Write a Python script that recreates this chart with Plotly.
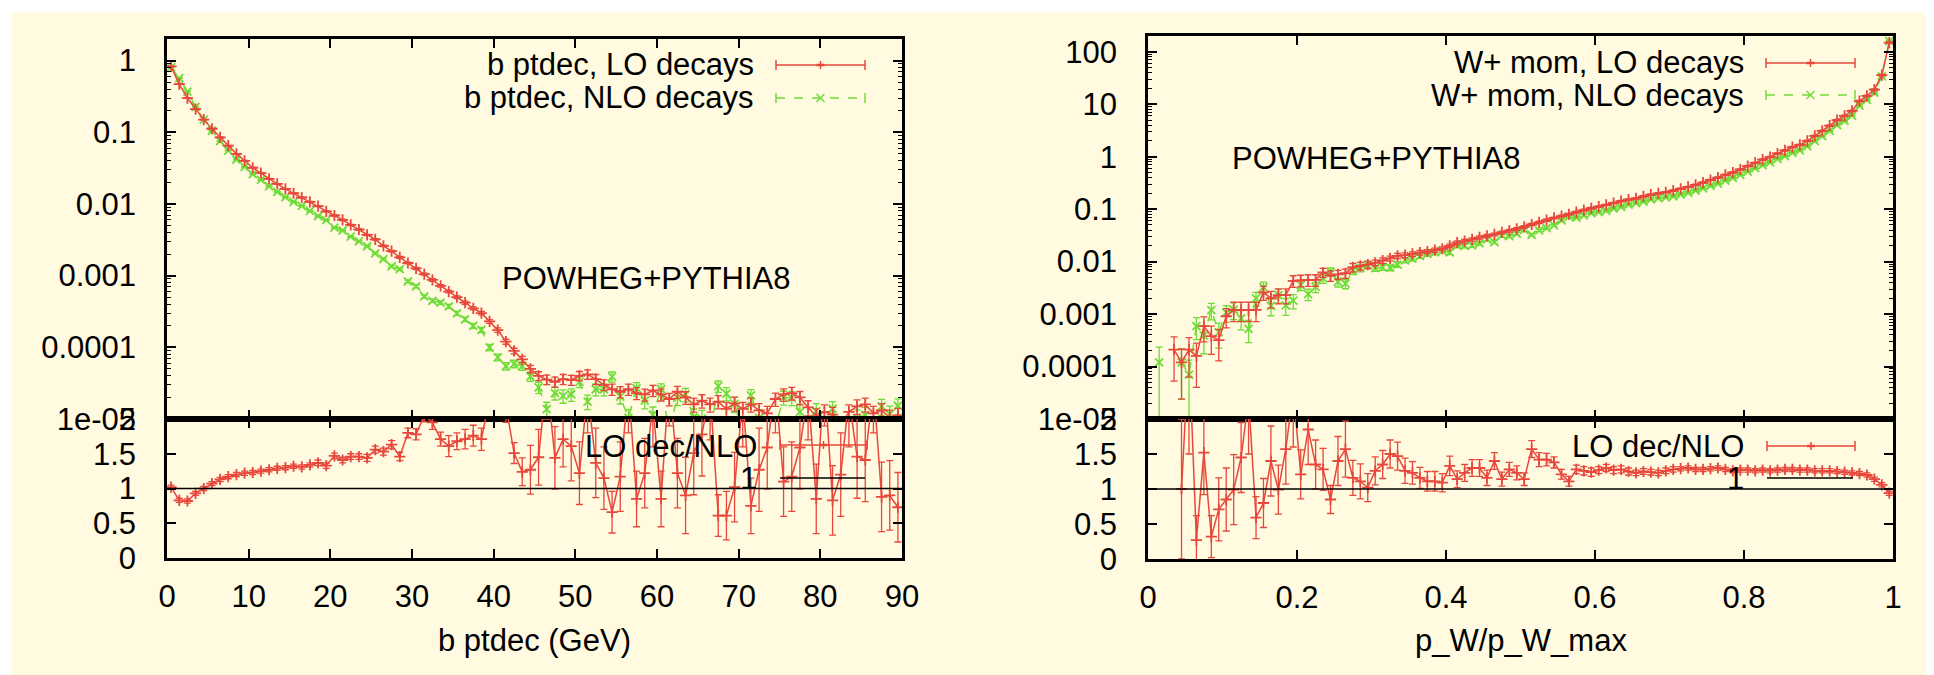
import numpy as np
import plotly.graph_objects as go

# The page places the figure 8 px in from the top-left corner, so all layout
# positions below are given in window pixels and converted with OFF.
WIN_W, WIN_H = 1934, 675
OFF = 8
W, H = WIN_W - OFF, WIN_H - OFF
RED = "#E8473B"
GREEN = "#6FDC37"
CREAM = "#FFFAE0"
FONT = "Liberation Sans, Arial, Helvetica, sans-serif"
FS = 31

# ---------------- data: left panel (b ptdec, GeV) ----------------
b_pt = np.arange(0.5, 90.0, 1.0)   # bin centres
b_lo = [0.83, 0.47, 0.30, 0.21, 0.15, 0.112, 0.085, 0.065, 0.050, 0.040,
        0.032, 0.027, 0.0224, 0.019, 0.0162, 0.0141, 0.0123, 0.0107, 0.0093, 0.0079,
        0.0069, 0.0060, 0.0051, 0.0044, 0.0037, 0.0032, 0.0026, 0.0022, 0.0018, 0.0015,
        0.00126, 0.00105, 0.00087, 0.00072, 0.00060, 0.00050, 0.00042, 0.00035, 0.00030, 0.00023,
        1.74e-4, 1.20e-4, 8.9e-5, 6.8e-5, 5.0e-5, 4.0e-5, 3.55e-5, 3.3e-5, 3.6e-5, 3.5e-5,
        4.0e-5, 4.2e-5, 3.6e-5, 3.0e-5, 2.6e-5, 2.4e-5, 2.6e-5, 2.3e-5, 2.2e-5, 2.5e-5,
        2.2e-5, 1.9e-5, 2.4e-5, 2.0e-5, 1.6e-5, 1.8e-5, 1.6e-5, 1.75e-5, 1.38e-5, 1.65e-5,
        1.38e-5, 1.6e-5, 1.32e-5, 1.2e-5, 1.9e-5, 2.2e-5, 2.3e-5, 2.0e-5, 1.45e-5, 1.1e-5,
        1.26e-5, 1.15e-5, 8.0e-6, 1.26e-5, 1.5e-5, 1.6e-5, 1.2e-5, 1.32e-5, 1.05e-5, 1.12e-5]
b_lo_rel = [0.01, 0.01, 0.01, 0.01, 0.01, 0.01, 0.01, 0.01, 0.01, 0.01,
            0.012, 0.012, 0.012, 0.012, 0.012, 0.015, 0.015, 0.015, 0.015, 0.015,
            0.02, 0.02, 0.02, 0.02, 0.02, 0.025, 0.025, 0.025, 0.03, 0.03,
            0.035, 0.035, 0.04, 0.04, 0.045, 0.045, 0.05, 0.05, 0.055, 0.06,
            0.07, 0.08, 0.09, 0.1, 0.12, 0.14, 0.15, 0.16, 0.16, 0.16,
            0.15, 0.15, 0.16, 0.17, 0.18, 0.18, 0.18, 0.19, 0.19, 0.18,
            0.19, 0.2, 0.19, 0.2, 0.22, 0.21, 0.22, 0.21, 0.24, 0.22,
            0.24, 0.22, 0.24, 0.25, 0.21, 0.2, 0.2, 0.21, 0.24, 0.26,
            0.25, 0.26, 0.3, 0.25, 0.23, 0.22, 0.25, 0.24, 0.27, 0.26]
b_nlo = [0.81, 0.57, 0.37, 0.226, 0.15, 0.105, 0.075, 0.0556, 0.0417, 0.0328,
         0.026, 0.0216, 0.0176, 0.0147, 0.01246, 0.01068, 0.00939, 0.00799, 0.00679, 0.00594,
         0.00469, 0.00426, 0.00349, 0.00301, 0.00257, 0.00205, 0.0017, 0.00135, 0.00123, 0.000833,
         0.000708, 0.000512, 0.000446, 0.000421, 0.000373, 0.000298, 0.000246, 0.000199, 0.000175, 0.0001,
         7.25e-5, 5.45e-5, 5.89e-5, 5.48e-5, 3.94e-5, 2.76e-5, 1.37e-5, 2.3e-5, 2.1e-5, 2.2e-5,
         3.3e-5, 1.75e-5, 2.6e-5, 2.6e-5, 3.9e-5, 2.05e-5, 1.04e-5, 2.7e-5, 1.8e-5, 1.14e-5,
         2.6e-5, 7.3e-6, 1.97e-5, 2.2e-5, 1.06e-5, 1.01e-5, 6.7e-6, 2.87e-5, 2.26e-5, 1.62e-5,
         6.0e-6, 2.13e-5, 1.04e-5, 7.5e-6, 7.6e-6, 2.0e-5, 1.97e-5, 1.26e-5, 6.0e-6, 1.29e-5,
         4.8e-6, 1.39e-5, 6.7e-6, 5.5e-6, 1.03e-5, 1.13e-5, 4.8e-6, 1.5e-5, 1.17e-5, 1.53e-5]
b_nlo_rel = [0.01, 0.01, 0.01, 0.01, 0.01, 0.01, 0.01, 0.01, 0.012, 0.012,
             0.012, 0.012, 0.015, 0.015, 0.015, 0.015, 0.018, 0.018, 0.018, 0.02,
             0.02, 0.022, 0.022, 0.025, 0.025, 0.03, 0.03, 0.035, 0.035, 0.04,
             0.045, 0.05, 0.05, 0.055, 0.06, 0.065, 0.07, 0.075, 0.08, 0.1,
             0.11, 0.12, 0.12, 0.13, 0.15, 0.18, 0.25, 0.2, 0.21, 0.2,
             0.17, 0.23, 0.19, 0.19, 0.16, 0.21, 0.3, 0.19, 0.23, 0.29,
             0.19, 0.35, 0.22, 0.21, 0.3, 0.31, 0.38, 0.18, 0.21, 0.24,
             0.4, 0.21, 0.3, 0.36, 0.36, 0.22, 0.22, 0.28, 0.4, 0.27,
             0.45, 0.26, 0.38, 0.42, 0.3, 0.29, 0.45, 0.25, 0.29, 0.25]
b_ratio = [1.02, 0.83, 0.82, 0.93, 1.00, 1.07, 1.13, 1.17, 1.20, 1.22,
           1.23, 1.25, 1.27, 1.29, 1.30, 1.32, 1.31, 1.34, 1.37, 1.33,
           1.47, 1.41, 1.46, 1.46, 1.44, 1.56, 1.53, 1.63, 1.46, 1.80,
           1.78, 2.05, 1.95, 1.71, 1.61, 1.68, 1.71, 1.76, 1.71, 2.30,
           2.40, 2.20, 1.51, 1.24, 1.27, 1.45, 2.60, 1.44, 1.71, 1.61,
           1.22, 2.40, 1.37, 1.15, 0.66, 1.17, 2.50, 0.85, 1.22, 2.20,
           0.85, 2.60, 1.22, 0.90, 1.51, 1.78, 2.40, 0.61, 0.61, 1.02,
           2.30, 0.75, 1.27, 1.59, 2.50, 1.10, 1.17, 1.59, 2.40, 0.85,
           2.60, 0.83, 1.20, 2.30, 1.46, 1.41, 2.50, 0.88, 0.90, 0.73]
b_ratio_err = [0.03, 0.03, 0.03, 0.03, 0.03, 0.03, 0.03, 0.03, 0.03, 0.03,
               0.03, 0.03, 0.03, 0.03, 0.03, 0.03, 0.03, 0.03, 0.04, 0.04,
               0.04, 0.04, 0.04, 0.04, 0.05, 0.05, 0.05, 0.06, 0.06, 0.07,
               0.08, 0.09, 0.10, 0.10, 0.15, 0.12, 0.14, 0.15, 0.16, 0.20,
               0.25, 0.25, 0.15, 0.20, 0.35, 0.40, 0.60, 0.45, 0.40, 0.50,
               0.45, 0.60, 0.50, 0.45, 0.30, 0.50, 0.70, 0.40, 0.50, 0.60,
               0.40, 0.70, 0.50, 0.55, 0.60, 0.60, 0.70, 0.30, 0.35, 0.50,
               0.70, 0.40, 0.60, 0.60, 0.70, 0.50, 0.50, 0.60, 0.70, 0.50,
               0.70, 0.50, 0.60, 0.70, 0.60, 0.60, 0.70, 0.50, 0.50, 0.50]

# ---------------- data: right panel (p_W / p_W_max) ----------------
w_x = np.arange(0.005, 1.0, 0.01)   # bin centres
w_lo = [None, None, None, 2.1e-4, 1.2e-4, 2.1e-4, 1.6e-4, 5.9e-4, 3.8e-4, 3.2e-4,
        9.1e-4, 1.2e-3, 1.2e-3, 1.2e-3, 1.2e-3, 2.6e-3, 2.0e-3, 2.3e-3, 2.3e-3, 4.3e-3,
        4.4e-3, 4.5e-3, 4.5e-3, 6.2e-3, 5.4e-3, 5.7e-3, 6.0e-3, 7.8e-3, 8.3e-3, 8.8e-3,
        9.5e-3, 1.05e-2, 1.15e-2, 1.29e-2, 1.33e-2, 1.40e-2, 1.48e-2, 1.56e-2, 1.66e-2, 1.76e-2,
        2.0e-2, 2.3e-2, 2.45e-2, 2.65e-2, 2.9e-2, 3.1e-2, 3.3e-2, 3.6e-2, 3.9e-2, 4.2e-2,
        4.6e-2, 5.1e-2, 5.6e-2, 6.2e-2, 6.8e-2, 7.4e-2, 8.0e-2, 8.8e-2, 9.6e-2, 0.104,
        0.112, 0.121, 0.131, 0.142, 0.153, 0.160, 0.175, 0.190, 0.200, 0.210,
        0.225, 0.245, 0.265, 0.290, 0.320, 0.360, 0.400, 0.450, 0.500, 0.570,
        0.660, 0.760, 0.880, 0.980, 1.15, 1.32, 1.52, 1.68, 2.0, 2.5,
        3.1, 3.9, 5.0, 6.0, 7.5, 11.5, 14.5, 19.0, 36.0, 150.0]
w_lo_rel = [None, None, None, 0.75, 0.8, 0.7, 0.75, 0.5, 0.55, 0.6,
            0.4, 0.4, 0.4, 0.4, 0.4, 0.3, 0.35, 0.32, 0.32, 0.25,
            0.25, 0.25, 0.25, 0.2, 0.22, 0.2, 0.2, 0.18, 0.17, 0.16,
            0.12, 0.12, 0.11, 0.11, 0.1, 0.1, 0.1, 0.09, 0.09, 0.09,
            0.08, 0.08, 0.08, 0.07, 0.07, 0.07, 0.06, 0.06, 0.06, 0.06,
            0.05, 0.05, 0.05, 0.05, 0.04, 0.04, 0.04, 0.04, 0.04, 0.04,
            0.03, 0.03, 0.03, 0.03, 0.03, 0.03, 0.03, 0.03, 0.03, 0.03,
            0.03, 0.03, 0.03, 0.03, 0.03, 0.03, 0.03, 0.03, 0.03, 0.03,
            0.03, 0.03, 0.03, 0.03, 0.03, 0.03, 0.03, 0.03, 0.03, 0.03,
            0.03, 0.03, 0.03, 0.03, 0.03, 0.03, 0.03, 0.03, 0.03, 0.03]
w_nlo = [None, 1.2e-4, None, None, 1.2e-4, 7.0e-5, 5.9e-4, 3.9e-4, 1.19e-3, 4.5e-4,
         1.07e-3, 1.21e-3, 8.3e-4, 5.2e-4, 2.0e-3, 3.25e-3, 1.43e-3, 2.3e-3, 1.46e-3, 1.8e-3,
         3.6e-3, 2.4e-3, 3.3e-3, 4.8e-3, 6.4e-3, 4.1e-3, 3.8e-3, 6.7e-3, 7.5e-3, 8.6e-3,
         7.5e-3, 7.8e-3, 7.7e-3, 8.8e-3, 1.06e-2, 1.14e-2, 1.28e-2, 1.41e-2, 1.50e-2, 1.61e-2,
         1.50e-2, 2.02e-2, 1.99e-2, 2.04e-2, 2.23e-2, 2.67e-2, 2.36e-2, 3.16e-2, 3.05e-2, 3.41e-2,
         4.04e-2, 3.25e-2, 3.94e-2, 4.37e-2, 4.93e-2, 6.12e-2, 7.21e-2, 6.88e-2, 7.62e-2, 8.39e-2,
         8.82e-2, 9.31e-2, 0.103, 0.111, 0.122, 0.130, 0.140, 0.153, 0.163, 0.167,
         0.176, 0.190, 0.204, 0.227, 0.250, 0.279, 0.308, 0.352, 0.397, 0.449,
         0.520, 0.603, 0.693, 0.778, 0.906, 1.03, 1.19, 1.32, 1.57, 1.98,
         2.46, 3.10, 4.0, 4.84, 6.10, 9.43, 12.1, 16.7, 34.0, 160.0]
w_nlo_rel = [None, 0.95, None, None, 0.8, 0.9, 0.45, 0.55, 0.35, 0.5,
             0.35, 0.35, 0.4, 0.45, 0.3, 0.25, 0.35, 0.3, 0.35, 0.3,
             0.22, 0.25, 0.22, 0.2, 0.18, 0.2, 0.2, 0.16, 0.15, 0.14,
             0.13, 0.13, 0.13, 0.12, 0.11, 0.1, 0.1, 0.09, 0.09, 0.09,
             0.09, 0.08, 0.08, 0.08, 0.07, 0.07, 0.07, 0.06, 0.06, 0.06,
             0.05, 0.05, 0.05, 0.05, 0.04, 0.04, 0.04, 0.04, 0.04, 0.04,
             0.03, 0.03, 0.03, 0.03, 0.03, 0.03, 0.03, 0.03, 0.03, 0.03,
             0.03, 0.03, 0.03, 0.03, 0.03, 0.03, 0.03, 0.03, 0.03, 0.03,
             0.03, 0.03, 0.03, 0.03, 0.03, 0.03, 0.03, 0.03, 0.03, 0.03,
             0.03, 0.03, 0.03, 0.03, 0.03, 0.03, 0.03, 0.03, 0.03, 0.03]
w_ratio = [None, None, None, None, 1.00, 3.00, 0.27, 1.52, 0.32, 0.71,
           0.85, 0.99, 1.45, 2.30, 0.59, 0.80, 1.40, 0.99, 1.57, 2.40,
           1.21, 1.85, 1.35, 1.28, 0.85, 1.40, 1.57, 1.16, 1.11, 1.02,
           1.26, 1.35, 1.50, 1.47, 1.26, 1.23, 1.16, 1.11, 1.11, 1.09,
           1.33, 1.14, 1.23, 1.30, 1.30, 1.16, 1.40, 1.14, 1.28, 1.23,
           1.14, 1.57, 1.42, 1.42, 1.38, 1.21, 1.11, 1.28, 1.26, 1.24,
           1.27, 1.30, 1.27, 1.28, 1.25, 1.23, 1.25, 1.24, 1.23, 1.26,
           1.28, 1.29, 1.30, 1.28, 1.28, 1.29, 1.30, 1.28, 1.26, 1.27,
           1.27, 1.26, 1.27, 1.26, 1.27, 1.28, 1.28, 1.27, 1.27, 1.26,
           1.26, 1.26, 1.25, 1.24, 1.23, 1.22, 1.20, 1.14, 1.06, 0.94]
w_ratio_err = [None, None, None, None, 1.0, 1.5, 0.35, 0.6, 0.3, 0.45,
               0.45, 0.5, 0.5, 0.8, 0.3, 0.35, 0.5, 0.35, 0.5, 0.8,
               0.35, 0.5, 0.35, 0.3, 0.2, 0.35, 0.4, 0.25, 0.25, 0.2,
               0.2, 0.2, 0.2, 0.2, 0.18, 0.16, 0.15, 0.14, 0.14, 0.13,
               0.14, 0.12, 0.12, 0.12, 0.12, 0.11, 0.12, 0.1, 0.1, 0.1,
               0.09, 0.12, 0.1, 0.09, 0.08, 0.07, 0.07, 0.06, 0.06, 0.06,
               0.05, 0.05, 0.05, 0.05, 0.05, 0.04, 0.04, 0.04, 0.04, 0.04,
               0.04, 0.03, 0.03, 0.03, 0.03, 0.03, 0.03, 0.03, 0.03, 0.03,
               0.03, 0.03, 0.03, 0.03, 0.03, 0.03, 0.03, 0.03, 0.03, 0.03,
               0.03, 0.03, 0.03, 0.03, 0.03, 0.03, 0.03, 0.03, 0.03, 0.03]

ratio_reference = 1.0

log_ticks_left = [1e-5, 1e-4, 1e-3, 1e-2, 1e-1, 1]
log_text_left = ["1e-05", "0.0001", "0.001", "0.01", "0.1", "1"]
log_ticks_right = [1e-5, 1e-4, 1e-3, 1e-2, 1e-1, 1, 10, 100]
log_text_right = ["1e-05", "0.0001", "0.001", "0.01", "0.1", "1", "10", "100"]
ratio_ticks = [0, 0.5, 1, 1.5, 2]
ratio_text = ["0", "0.5", "1", "1.5", "2"]


def arr(v):
    return np.array([np.nan if a is None else a for a in v], dtype=float)


def px(x):
    return (x - OFF) / W


def py(y):
    return 1 - (y - OFF) / H


fig = go.Figure()


def add_series(x, y, err, xa, ya, color, symbol, dash, relative=True):
    yv = arr(y)
    ev = yv * arr(err) if relative else arr(err)
    fig.add_trace(go.Scatter(
        x=x, y=yv, mode="lines+markers", xaxis=xa, yaxis=ya,
        line=dict(color=color, width=1.5, dash=dash),
        marker=dict(symbol=symbol, size=8, color=color, line=dict(color=color, width=1.8)),
        error_y=dict(type="data", array=ev, color=color, thickness=1.3, width=3.5),
        showlegend=False, connectgaps=False, hoverinfo="skip"))


add_series(b_pt, b_nlo, b_nlo_rel, "x", "y", GREEN, "x-thin", "dash")
add_series(b_pt, b_lo, b_lo_rel, "x", "y", RED, "cross-thin", "solid")
add_series(b_pt, b_ratio, b_ratio_err, "x2", "y2", RED, "cross-thin", "solid", relative=False)
add_series(w_x, w_nlo, w_nlo_rel, "x3", "y3", GREEN, "x-thin", "dash")
add_series(w_x, w_lo, w_lo_rel, "x3", "y3", RED, "cross-thin", "solid")
add_series(w_x, w_ratio, w_ratio_err, "x4", "y4", RED, "cross-thin", "solid", relative=False)

LX = [px(167), px(902)]
RX = [px(1148), px(1893)]
UYL = [py(419), py(39)]
UYR = [py(419), py(36)]
LYL = [py(558), py(419)]
LYR = [py(559), py(419)]

tickfont = dict(family=FONT, size=FS, color="black")
common = dict(showline=True, linecolor="black", linewidth=2.5, mirror="ticks",
              ticks="inside", ticklen=9, tickwidth=1.5, tickcolor="black",
              showgrid=False, zeroline=False, tickfont=tickfont, automargin=False)
minor_left = [k * 10.0 ** e for e in range(-5, 1) for k in range(2, 10) if k * 10.0 ** e < 2]
minor_right = [k * 10.0 ** e for e in range(-5, 3) for k in range(2, 10) if k * 10.0 ** e < 200]
minor_l = dict(ticks="inside", ticklen=4, tickwidth=1, tickcolor="black",
               tickmode="array", tickvals=minor_left, showgrid=False)
minor_r = dict(ticks="inside", ticklen=4, tickwidth=1, tickcolor="black",
               tickmode="array", tickvals=minor_right, showgrid=False)

fig.update_layout(
    width=W, height=H,
    margin=dict(l=0, r=0, t=0, b=0, autoexpand=False),
    paper_bgcolor=CREAM, plot_bgcolor=CREAM,
    showlegend=False,
    font=dict(family=FONT, size=FS, color="black"),
    xaxis=dict(domain=LX, range=[0, 90], anchor="y", tick0=0, dtick=10,
               showticklabels=False, **common),
    yaxis=dict(domain=UYL, type="log", range=[-5, np.log10(2)], anchor="x",
               tickmode="array", tickvals=log_ticks_left, ticktext=log_text_left,
               ticklabelstandoff=22, minor=minor_l, **common),
    xaxis2=dict(domain=LX, range=[0, 90], anchor="y2", tick0=0, dtick=10,
                ticklabelstandoff=9, **common),
    yaxis2=dict(domain=LYL, range=[0, 2], anchor="x2", tickmode="array",
                tickvals=ratio_ticks, ticktext=ratio_text, ticklabelstandoff=22, **common),
    xaxis3=dict(domain=RX, range=[0, 1], anchor="y3", tick0=0, dtick=0.2,
                showticklabels=False, **common),
    yaxis3=dict(domain=UYR, type="log", range=[-5, np.log10(200)], anchor="x3",
                tickmode="array", tickvals=log_ticks_right, ticktext=log_text_right,
                ticklabelstandoff=22, minor=minor_r, **common),
    xaxis4=dict(domain=RX, range=[0, 1], anchor="y4", tick0=0, dtick=0.2,
                ticklabelstandoff=9, **common),
    yaxis4=dict(domain=LYR, range=[0, 2], anchor="x4", tickmode="array",
                tickvals=ratio_ticks, ticktext=ratio_text, ticklabelstandoff=22, **common),
)

shapes = []
# white page strips (top and left) around the cream panel
shapes.append(dict(type="rect", xref="paper", yref="paper", x0=px(0), x1=1.01, y0=py(12.5), y1=py(0),
                   fillcolor="white", line=dict(width=0), layer="below"))
shapes.append(dict(type="rect", xref="paper", yref="paper", x0=px(0), x1=px(12), y0=-0.01, y1=py(0),
                   fillcolor="white", line=dict(width=0), layer="below"))
# reference line y = 1 in the ratio panels
for xa, ya in (("x2", "y2"), ("x4", "y4")):
    shapes.append(dict(type="line", xref=xa + " domain", yref=ya, x0=0, x1=1,
                       y0=ratio_reference, y1=ratio_reference,
                       line=dict(color="black", width=1.5), layer="above"))


def key_sample(x0, x1, y, color, dash, kind):
    out = [dict(type="line", xref="paper", yref="paper", x0=px(x0), x1=px(x1),
                y0=py(y), y1=py(y), line=dict(color=color, width=1.6, dash=dash))]
    if kind in ("red", "green"):
        for xe in (x0, x1):
            out.append(dict(type="line", xref="paper", yref="paper", x0=px(xe), x1=px(xe),
                            y0=py(y - 5), y1=py(y + 5), line=dict(color=color, width=1.5)))
        xm = (x0 + x1) / 2
        if kind == "red":
            out.append(dict(type="line", xref="paper", yref="paper", x0=px(xm - 4), x1=px(xm + 4),
                            y0=py(y), y1=py(y), line=dict(color=color, width=2.5)))
            out.append(dict(type="line", xref="paper", yref="paper", x0=px(xm), x1=px(xm),
                            y0=py(y - 4), y1=py(y + 4), line=dict(color=color, width=1.5)))
        else:
            out.append(dict(type="line", xref="paper", yref="paper", x0=px(xm - 4), x1=px(xm + 4),
                            y0=py(y - 4), y1=py(y + 4), line=dict(color=color, width=1.5)))
            out.append(dict(type="line", xref="paper", yref="paper", x0=px(xm - 4), x1=px(xm + 4),
                            y0=py(y + 4), y1=py(y - 4), line=dict(color=color, width=1.5)))
    return out


shapes += key_sample(776, 865, 65, RED, "solid", "red")
shapes += key_sample(776, 865, 98, GREEN, "dash", "green")
shapes += key_sample(1766, 1855, 63, RED, "solid", "red")
shapes += key_sample(1766, 1855, 95, GREEN, "dash", "green")
shapes += key_sample(780, 867, 445, RED, "solid", "red")
shapes += key_sample(780, 865, 478, "black", "solid", "black")
shapes += key_sample(1767, 1855, 446, RED, "solid", "red")
shapes += key_sample(1767, 1853, 478, "black", "solid", "black")
fig.update_layout(shapes=shapes)

ann = []


def label(text, x, y, anchor="right"):
    ann.append(dict(text=text, xref="paper", yref="paper", x=px(x), y=py(y),
                    xanchor=anchor, yanchor="middle", showarrow=False,
                    font=dict(family=FONT, size=FS, color="black")))


label("b ptdec, LO decays", 756, 65)
label("b ptdec, NLO decays", 756, 98)
label("W+ mom, LO decays", 1746, 63)
label("W+ mom, NLO decays", 1746, 95)
label("LO dec/NLO", 759, 446)
label("1", 759, 478)
label("LO dec/NLO", 1746, 446)
label("1", 1746, 478)
label("POWHEG+PYTHIA8", 646, 278, "center")
label("POWHEG+PYTHIA8", 1376, 158, "center")
# axis titles, centred under each panel
label("b ptdec (GeV)", (167 + 902) / 2, 640, "center")
label("p_W/p_W_max", (1148 + 1893) / 2, 640, "center")
fig.update_layout(annotations=ann)

fig.write_html("out.html")
